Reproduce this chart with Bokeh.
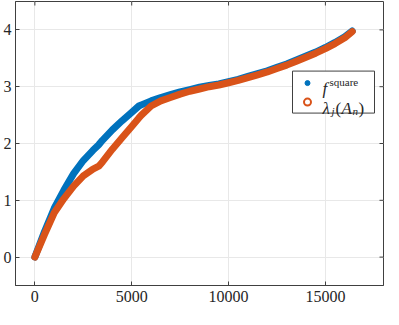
import numpy as np
from bokeh.plotting import figure
from bokeh.models import Range1d, FixedTicker, Label
from bokeh.embed import file_html
from bokeh.resources import INLINE

# ---- data ----
x_index = [0, 500, 1000, 1500, 2000, 2500, 3000, 3300, 3500, 4000, 4500, 5000,
           5370, 5500, 6000, 6500, 7000, 7500, 8000, 8500, 9000, 9500, 10000,
           10500, 11000, 11500, 12000, 12500, 13000, 13500, 14000, 14500,
           15000, 15500, 16000, 16384]
f_square = [0.00, 0.45, 0.86, 1.18, 1.47, 1.70, 1.88, 1.98, 2.06, 2.24, 2.40, 2.55,
            2.66, 2.68, 2.75, 2.81, 2.86, 2.91, 2.95, 2.99, 3.02, 3.05, 3.09,
            3.13, 3.18, 3.23, 3.28, 3.34, 3.40, 3.47, 3.54, 3.61,
            3.69, 3.78, 3.88, 3.98]
lambda_An = [0.00, 0.40, 0.78, 1.03, 1.25, 1.43, 1.55, 1.60, 1.68, 1.90, 2.10, 2.30,
             2.45, 2.50, 2.66, 2.75, 2.81, 2.87, 2.92, 2.96, 3.00, 3.03, 3.07,
             3.11, 3.16, 3.21, 3.26, 3.32, 3.38, 3.45, 3.52, 3.59,
             3.67, 3.76, 3.86, 3.97]
x_ticks = [0, 5000, 10000, 15000]
y_ticks = [0, 1, 2, 3, 4]
x_limits = (-1000, 18000)
y_limits = (-0.5, 4.5)

# ---- style ----
BLUE = "#0072BD"
ORANGE = "#D95319"
AXC = "#404040"
GRID = "#e8e8e8"
FONT = "Liberation Serif"

BL, BR, BT, BB = 14, 1, 1, 24
fw, fh = 368, 284

p = figure(frame_width=fw, frame_height=fh, output_backend="svg", toolbar_location=None,
           x_range=Range1d(*x_limits), y_range=Range1d(*y_limits),
           min_border_left=BL, min_border_right=BR, min_border_top=BT,
           min_border_bottom=BB)
p.outline_line_color = AXC
p.outline_line_width = 1
p.background_fill_color = "white"
p.border_fill_color = "white"

for ax in p.xaxis + p.yaxis:
    ax.axis_line_color = AXC
    ax.major_tick_line_color = AXC
    ax.major_tick_in = 4
    ax.major_tick_out = 0
    ax.minor_tick_line_color = None
    ax.major_label_text_font = FONT
    ax.major_label_text_font_size = "16px"
    ax.major_label_text_color = "#262626"
    ax.major_label_standoff = 5
p.yaxis.major_label_standoff = 4
p.xaxis.ticker = FixedTicker(ticks=x_ticks)
p.yaxis.ticker = FixedTicker(ticks=y_ticks)

p.xgrid.ticker = FixedTicker(ticks=x_ticks)
p.ygrid.ticker = FixedTicker(ticks=y_ticks)
p.grid.grid_line_color = GRID
p.grid.grid_line_width = 1

ux = (x_limits[1] - x_limits[0]) / fw
uy = (y_limits[1] - y_limits[0]) / fh

# mirrored ticks on the top and right edges of the box
p.segment(x0=x_ticks, x1=x_ticks, y0=[y_limits[1]] * len(x_ticks),
          y1=[y_limits[1] - 4 * uy] * len(x_ticks), line_color=AXC, line_width=1)
p.segment(x0=[x_limits[1]] * len(y_ticks), x1=[x_limits[1] - 4 * ux] * len(y_ticks),
          y0=y_ticks, y1=y_ticks, line_color=AXC, line_width=1)

# ---- series ----
p.line(x_index, f_square, line_color=BLUE, line_width=7, line_cap="round", line_join="round")
p.line(x_index, lambda_An, line_color=ORANGE, line_width=7, line_cap="round", line_join="round")

# ---- legend (custom, for math-like labels) ----
def dx(px):
    return x_limits[0] + px * ux
def dy(py):
    return y_limits[1] - py * uy

box_w, box_h = 82, 42
box_right = fw - 9
box_left = box_right - box_w
box_top = 0.245 * fh
box_bottom = box_top + box_h
p.quad(left=[dx(box_left)], right=[dx(box_right)], top=[dy(box_top)],
       bottom=[dy(box_bottom)], fill_color="white", line_color=AXC, line_width=1)

row1 = box_top + 12
row2 = box_top + 31
p.scatter([dx(box_left + 15)], [dy(row1)], marker="circle", size=5,
          fill_color=BLUE, line_color=BLUE)
p.scatter([dx(box_left + 15)], [dy(row2)], marker="circle", size=7,
          fill_color="white", line_color=ORANGE, line_width=2)

def lab(px, py, text, size, italic=False):
    p.add_layout(Label(x=dx(px), y=dy(py), text=text, text_font=FONT,
                       text_font_size=f"{size}px",
                       text_font_style="italic" if italic else "normal",
                       text_color="#262626", text_align="left",
                       text_baseline="alphabetic"))

tx = box_left + 30
# f^square
lab(tx, row1 + 5, "f", 17, True)
lab(tx + 7, row1 - 1, "square", 11)
# lambda_j(A_n)
lab(tx, row2 + 6, "λ", 17, True)
lab(tx + 9, row2 + 9, "j", 11, True)
lab(tx + 13, row2 + 6, "(", 17)
lab(tx + 19, row2 + 6, "A", 17, True)
lab(tx + 30, row2 + 9, "n", 11, True)
lab(tx + 36, row2 + 6, ")", 17)

open("out.html", "w").write(file_html(p, INLINE))
